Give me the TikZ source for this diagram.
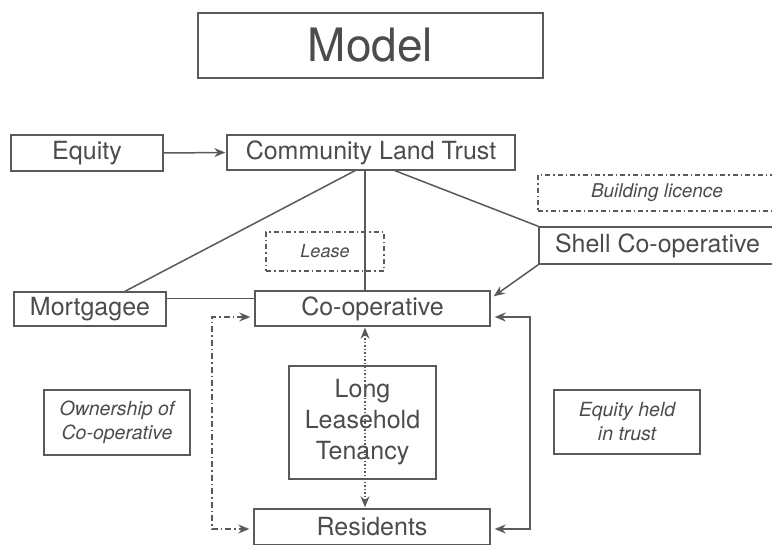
\documentclass[tikz,border=0pt]{standalone}
\usepackage{fontspec}
\setmainfont{TeX Gyre Heros}
\usetikzlibrary{calc,arrows.meta,shadows}
\definecolor{ln}{HTML}{5A5A5A}
\definecolor{tx}{HTML}{4C4C4C}
\begin{document}
\begin{tikzpicture}[x=1pt,y=-1pt,
  box/.style={draw=ln,line width=1.4pt,fill=white,text=tx,inner sep=0pt,
    font=\fontsize{25}{30}\selectfont,
    drop shadow={opacity=0.25,shadow xshift=1pt,shadow yshift=-1.5pt}},
  dbox/.style={draw=ln,line width=1.2pt,dash pattern=on 5pt off 3pt on 1.5pt off 3pt,text=tx,inner sep=0pt,
    font=\fontsize{19}{22}\selectfont\itshape},
  ibox/.style={box,font=\fontsize{19.5}{24}\selectfont\itshape,align=center},
  con/.style={draw=ln,line width=1.5pt},
  arr/.style={con,-{Stealth[length=11pt,width=9pt]}},
  darr/.style={con,{Stealth[length=11pt,width=9pt]}-{Stealth[length=11pt,width=9pt]}}]
\useasboundingbox (0,0) rectangle (772,545);
\fill[white] (0,0) rectangle (772,545);

\node[box,minimum width=345pt,minimum height=65pt,font=\fontsize{46}{50}\selectfont] (model) at (370.5,45.5) {Model};

\node[box,minimum width=152pt,minimum height=36pt] (equity) at (87,153) {Equity};
\node[box,minimum width=288pt,minimum height=35pt] (clt) at (371,152.5) {Community Land Trust};
\node[dbox,minimum width=238pt,minimum height=36pt] (blic) at (657,193) {Building licence};
\node[box,minimum width=237pt,minimum height=37pt] (shell) at (657.5,245.5) {Shell Co-operative};
\node[dbox,minimum width=118pt,minimum height=39pt,font=\fontsize{18}{22}\selectfont\itshape] (lease) at (325,251.5) {Lease};
\node[box,minimum width=152pt,minimum height=34pt] (mort) at (90,309) {Mortgagee};
\node[box,minimum width=235pt,minimum height=35pt] (coop) at (372.5,308.5) {Co-operative};
\node[box,minimum width=147pt,minimum height=113pt,align=center,font=\fontsize{25}{31}\selectfont] (llt) at (362.5,422.5) {Long\\Leasehold\\Tenancy};
\node[ibox,minimum width=146pt,minimum height=65pt] (own) at (117,422.5) {Ownership of\\Co-operative};
\node[ibox,minimum width=146pt,minimum height=64pt] (eht) at (627,422) {Equity held\\in trust};
\node[box,minimum width=236pt,minimum height=36pt] (res) at (372,527) {Residents};

\coordinate (rt) at (530,317);
\coordinate (rb) at (530,529);
\coordinate (lt) at (212,317);
\coordinate (lb) at (212,529);

\draw[arr,shorten >=1pt] (equity.east) -- (clt.west);
\draw[con] ($(clt.south)+(-16,0)$) -- ($(mort.north)+(35,0)$);
\draw[con] ($(clt.south)+(-6,0)$) -- ($(coop.north)+(-7.5,0)$);
\draw[con] ($(clt.south)+(24,0)$) -- (shell.north west);
\draw[con] ($(mort.north east)+(0,7)$) -- ($(coop.north west)+(0,8)$);
\draw[arr] (shell.south west) -- ($(coop.north east)+(3,6)$);
\draw[darr,shorten <=4pt,shorten >=4pt] ($(coop.east)+(0,8.5)$) -- (rt) -- (rb) -- ($(res.east)+(0,2)$);
\draw[darr,dash pattern=on 6pt off 3pt on 1.5pt off 3pt,shorten <=4pt,shorten >=4pt] ($(coop.west)+(0,8.5)$) -- (lt) -- (lb) -- ($(res.west)+(0,2)$);
\draw[darr,dotted,line width=1.2pt,shorten <=1pt,shorten >=1pt] ($(coop.south)+(-7.5,0)$) -- ($(res.north)+(-7,0)$);
\end{tikzpicture}
\end{document}
